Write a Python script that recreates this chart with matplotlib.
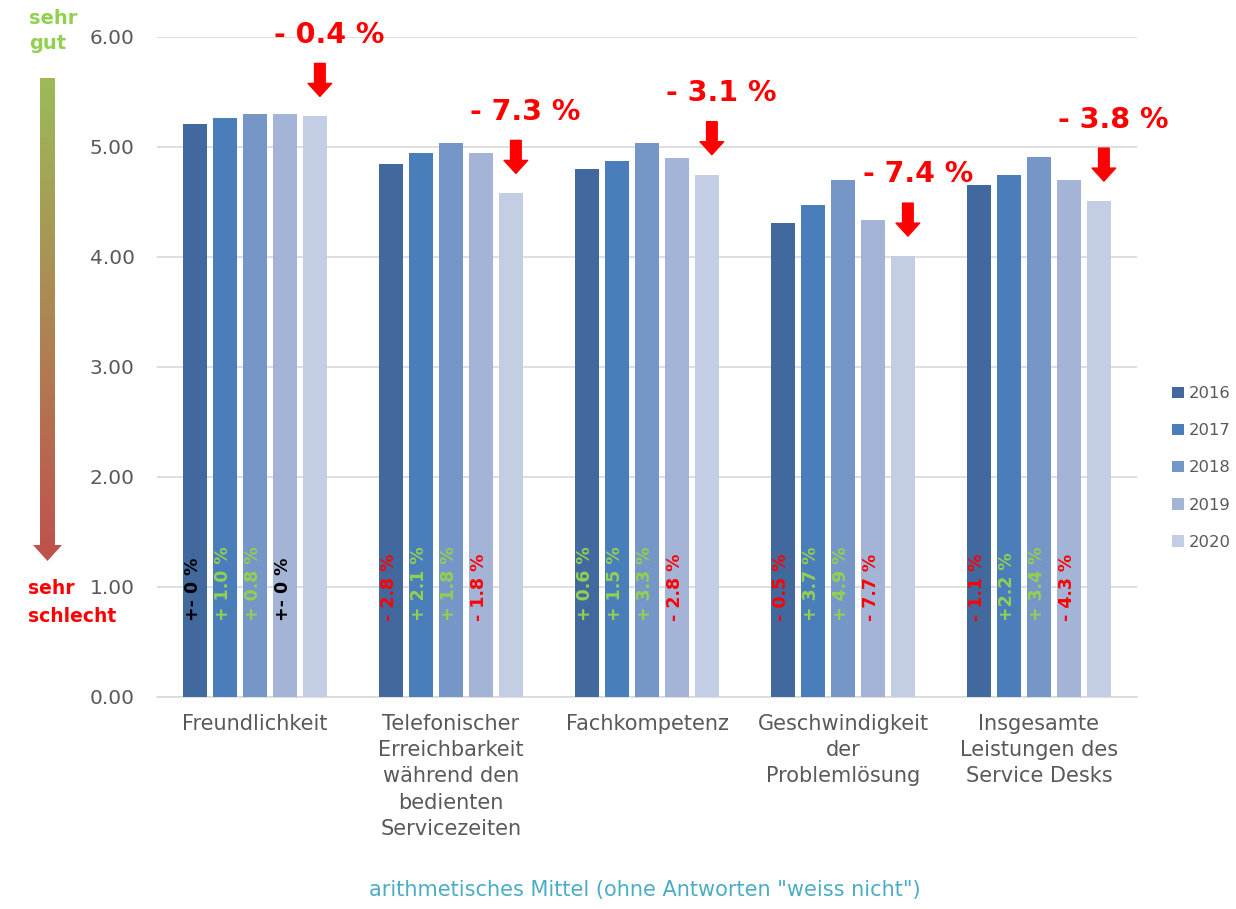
import numpy as np
import matplotlib
matplotlib.use("Agg")
import matplotlib.pyplot as plt
from matplotlib.patches import Polygon
from matplotlib.colors import LinearSegmentedColormap

categories = ["Freundlichkeit",
              "Telefonischer\nErreichbarkeit\nwährend den\nbedienten\nServicezeiten",
              "Fachkompetenz",
              "Geschwindigkeit\nder\nProblemlösung",
              "Insgesamte\nLeistungen des\nService Desks"]
years = ["2016", "2017", "2018", "2019", "2020"]
values = {
    "2016": [5.21, 4.85, 4.80, 4.31, 4.65],
    "2017": [5.26, 4.95, 4.87, 4.47, 4.75],
    "2018": [5.30, 5.04, 5.04, 4.70, 4.91],
    "2019": [5.30, 4.95, 4.90, 4.34, 4.70],
    "2020": [5.28, 4.58, 4.75, 4.01, 4.51],
}
change_2020 = ["- 0.4 %", "- 7.3 %", "- 3.1 %", "- 7.4 %", "- 3.8 %"]
inner_labels = [
    ["+- 0 %", "+ 1.0 %", "+ 0.8 %", "+- 0 %"],
    ["- 2.8 %", "+ 2.1 %", "+ 1.8 %", "- 1.8 %"],
    ["+ 0.6 %", "+ 1.5 %", "+ 3.3 %", "- 2.8 %"],
    ["- 0.5 %", "+ 3.7 %", "+ 4.9 %", "- 7.7 %"],
    ["- 1.1 %", "+2.2 %", "+ 3.4 %", "- 4.3 %"],
]
yticks = [0, 1, 2, 3, 4, 5, 6]

colors = ["#41699E", "#4A7EBB", "#7596C6", "#A3B4D6", "#C3CDE4"]
W, H = 1236, 909
fig = plt.figure(figsize=(W / 100, H / 100), dpi=100)

# background overlay axes in pixel coordinates
bg = fig.add_axes([0, 0, 1, 1], zorder=0)
bg.set_xlim(0, W)
bg.set_ylim(H, 0)
bg.axis("off")

poly = Polygon([[40, 78], [55, 78], [55, 545], [62, 545], [47.5, 561],
                [33, 545], [40, 545]], closed=True, transform=bg.transData,
               facecolor="none", edgecolor="none")
bg.add_patch(poly)
grad = np.linspace(0, 1, 256).reshape(-1, 1)
cmap = LinearSegmentedColormap.from_list("gr", ["#9BBB59", "#C0504D"])
im = bg.imshow(grad, cmap=cmap, extent=[30, 65, 561, 78], aspect="auto", zorder=1)
im.set_clip_path(poly)
bg.text(29, 31, "sehr\ngut", color="#92D050", fontsize=14, fontweight="bold",
        ha="left", va="center", linespacing=1.4)
bg.text(28, 589, "sehr", color="#FF0000", fontsize=13.5, fontweight="bold",
        ha="left", va="center")
bg.text(28, 617, "schlecht", color="#FF0000", fontsize=13.5, fontweight="bold",
        ha="left", va="center")

ax = fig.add_axes([157 / W, 1 - 697 / H, 980 / W, 660 / H], zorder=2)
ax.patch.set_alpha(0)
step = 0.153
bw = 0.122
x = np.arange(len(categories))
for i, y in enumerate(years):
    ax.bar(x + (i - 2) * step, values[y], width=bw, color=colors[i], label=y, zorder=3)

ax.set_ylim(0, 6)
ax.set_xlim(-0.5, len(categories) - 0.5)
ax.set_yticks(yticks)
ax.set_yticklabels([f"{t:.2f}" for t in yticks])
ax.yaxis.grid(True, color="#D9D9D9", linewidth=1.2, zorder=0)
ax.set_axisbelow(True)
for s in ["top", "right", "left"]:
    ax.spines[s].set_visible(False)
ax.spines["bottom"].set_color("#D9D9D9")
ax.spines["bottom"].set_linewidth(1.2)
ax.tick_params(axis="both", length=0, colors="#595959", labelsize=14.5)
ax.tick_params(axis="y", pad=16)
ax.set_xticks(x)
ax.set_xticklabels(categories, fontsize=15, linespacing=1.4, color="#595959")
ax.tick_params(axis="x", pad=12)

def label_color(s):
    if s.startswith("+-"):
        return "black"
    if s.startswith("+"):
        return "#92D050"
    return "#FF0000"

for c in range(len(categories)):
    for i, s in enumerate(inner_labels[c]):
        ax.text(c + (i - 2) * step - 0.01, 0.69, s, rotation=90, ha="center", va="bottom",
                fontsize=12.5, fontweight="bold", color=label_color(s), zorder=5)
    v = values["2020"][c]
    ax_x = c + 2 * step + 0.025
    ax.annotate("", xy=(ax_x, v + 0.18), xytext=(ax_x, v + 0.48),
                arrowprops=dict(arrowstyle="simple,head_length=0.55,head_width=1.0,tail_width=0.45",
                                color="#FF0000", mutation_scale=17, shrinkA=0, shrinkB=0),
                annotation_clip=False, zorder=6)
    ax.text(ax_x + 0.05, v + 0.74, change_2020[c], ha="center", va="center",
            fontsize=20.5, fontweight="bold", color="#FF0000", clip_on=False, zorder=6)

leg = fig.legend(loc="upper left", bbox_to_anchor=(1164 / W, 1 - 378 / H), frameon=False,
                 fontsize=11.8, labelspacing=1.35, handlelength=0.7, handleheight=0.7,
                 handletextpad=0.3, labelcolor="#595959", borderaxespad=0, borderpad=0.5)

fig.text(645 / W, 1 - 890 / H, 'arithmetisches Mittel (ohne Antworten "weiss nicht")',
         ha="center", va="center", fontsize=15, color="#4BACC6")

fig.savefig("out.png", dpi=100)
